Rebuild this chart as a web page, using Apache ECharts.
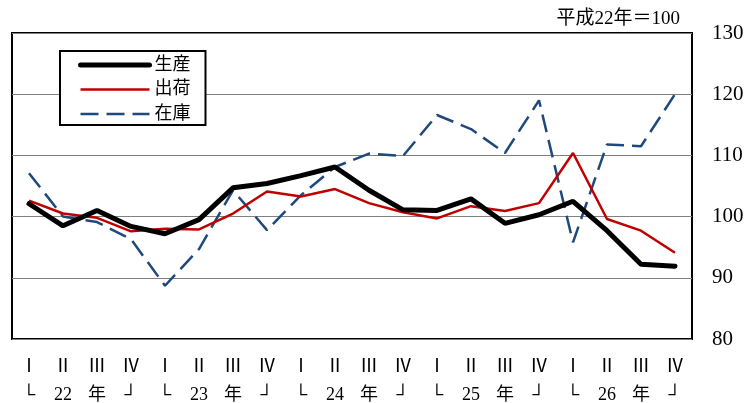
<!DOCTYPE html>
<html>
<head>
<meta charset="utf-8">
<script src="https://cdn.jsdelivr.net/npm/echarts@6/dist/echarts.min.js"></script>
<style>
  html, body { margin: 0; padding: 0; background: #fff; }
  #chart { width: 755px; height: 403px; }
</style>
</head>
<body>
<div id="chart"></div>
<script>
var quarters = ['Ⅰ', 'Ⅱ', 'Ⅲ', 'Ⅳ', 'Ⅰ', 'Ⅱ', 'Ⅲ', 'Ⅳ', 'Ⅰ', 'Ⅱ', 'Ⅲ', 'Ⅳ', 'Ⅰ', 'Ⅱ', 'Ⅲ', 'Ⅳ', 'Ⅰ', 'Ⅱ', 'Ⅲ', 'Ⅳ'];
var yearRow = ['└', '22', '年', '┘', '└', '23', '年', '┘', '└', '24', '年', '┘', '└', '25', '年', '┘', '└', '26', '年', '┘'];
var production = [102.1, 98.5, 101.0, 98.4, 97.2, 99.5, 104.7, 105.4, 106.7, 108.1, 104.3, 101.1, 101.0, 102.9, 98.9, 100.3, 102.5, 97.7, 92.2, 91.9];
var shipments = [102.6, 100.5, 99.8, 97.6, 98.0, 97.9, 100.5, 104.1, 103.3, 104.5, 102.2, 100.7, 99.7, 101.7, 100.9, 102.2, 110.4, 99.6, 97.7, 94.1];
var inventory = [107.1, 100.0, 99.1, 96.3, 88.7, 94.7, 104.3, 97.8, 103.5, 108.1, 110.3, 109.9, 116.6, 114.3, 110.4, 119.0, 95.8, 111.8, 111.5, 120.0];
var seriesNames = ['生産', '出荷', '在庫'];
var baseNote = '平成22年＝100';

var font = "'Liberation Serif', 'Noto Sans CJK JP', serif";
var categories = quarters.map(function (q, i) { return i; });

var black = '#000';
var red = '#C00000';
var blue = '#1F497D';
var dash = [18, 8];

var myChart = echarts.init(document.getElementById('chart'));
var option = {
    animation: false,
    textStyle: { fontFamily: font },
    title: {
        text: baseNote,
        right: 70,
        top: 5,
        textStyle: { fontFamily: font, fontSize: 19, fontWeight: 'normal', color: '#000' }
    },
    grid: {
        left: 12, right: 63, top: 33, bottom: 64,
        containLabel: false,
        outerBoundsMode: 'none',
        show: true, borderColor: '#000', borderWidth: 2
    },
    legend: {
        left: 60,
        top: 51,
        orient: 'vertical',
        backgroundColor: '#fff',
        borderColor: '#000',
        borderWidth: 2,
        borderRadius: 0,
        padding: [5, 15, 2, 18],
        itemWidth: 69,
        itemHeight: 14,
        itemGap: 6.5,
        itemStyle: { opacity: 0 },
        textStyle: { fontFamily: font, fontSize: 18, color: '#000' },
        data: [
            { name: seriesNames[0], lineStyle: { color: black, width: 5, cap: 'round' } },
            { name: seriesNames[1], lineStyle: { color: red, width: 2.5 } },
            { name: seriesNames[2], lineStyle: { color: blue, width: 2.5, type: dash } }
        ]
    },
    xAxis: {
        type: 'category',
        data: categories,
        boundaryGap: true,
        axisLine: { show: false },
        axisTick: { show: false },
        axisLabel: {
            margin: 14,
            fontFamily: font,
            fontSize: 18,
            color: '#000',
            lineHeight: 28,
            interval: 0,
            formatter: function (v, i) { return quarters[i] + '\n' + yearRow[i]; }
        }
    },
    yAxis: {
        type: 'value',
        position: 'right',
        min: 80,
        max: 130,
        interval: 10,
        axisLine: { show: false },
        axisTick: { show: false },
        axisLabel: { margin: 20, fontFamily: font, fontSize: 21, color: '#000' },
        splitLine: { lineStyle: { color: '#808080', width: 1 } }
    },
    series: [
        {
            name: seriesNames[0],
            type: 'line',
            data: production,
            symbol: 'none',
            z: 4,
            lineStyle: { color: black, width: 5, cap: 'round' },
            itemStyle: { color: black }
        },
        {
            name: seriesNames[1],
            type: 'line',
            data: shipments,
            symbol: 'none',
            z: 3,
            lineStyle: { color: red, width: 2.5 },
            itemStyle: { color: red }
        },
        {
            name: seriesNames[2],
            type: 'line',
            data: inventory,
            symbol: 'none',
            z: 2,
            lineStyle: { color: blue, width: 2.5, type: dash },
            itemStyle: { color: blue }
        }
    ]
};
if (option && typeof option === "object") {
    myChart.setOption(option, true);
}
</script>
</body>
</html>
